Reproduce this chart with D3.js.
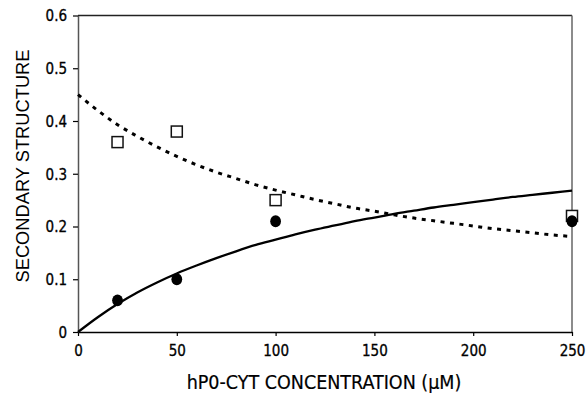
<!DOCTYPE html>
<html><head><meta charset="utf-8">
<script src="https://cdn.jsdelivr.net/npm/d3@7"></script>
<style>
html,body{margin:0;padding:0;background:#fff;}
svg{display:block;}
.tick text{font-family:"DejaVu Sans Condensed","DejaVu Sans",sans-serif;font-stretch:condensed;font-size:15px;fill:#000;stroke:#000;stroke-width:0.3px;}
</style></head><body>
<svg id="c" width="586" height="397"></svg>
<script>
// measured data points
const concentration = [20, 50, 100, 250];
const filledValues = [0.06, 0.10, 0.21, 0.21];
const openValues = [0.36, 0.38, 0.25, 0.22];
// fitted curves
const curveX = [0,10,20,30,40,50,60,70,80,90,100,110,120,130,140,150,160,170,180,190,200,210,220,230,240,250];
const solidCurve = [0,0.028,0.053,0.075,0.094,0.111,0.126,0.140,0.153,0.165,0.175,0.185,0.194,0.202,0.210,0.217,0.224,0.230,0.236,0.241,0.246,0.251,0.256,0.260,0.264,0.268];
const dashedCurve = [0.450,0.420,0.393,0.371,0.351,0.333,0.317,0.303,0.291,0.279,0.269,0.260,0.251,0.243,0.235,0.229,0.222,0.216,0.211,0.206,0.201,0.196,0.192,0.188,0.184,0.181];
const xTicks = [0,50,100,150,200,250];
const yTicks = [0,0.1,0.2,0.3,0.4,0.5,0.6];
const yTickLabels = ["0","0.1","0.2","0.3","0.4","0.5","0.6"];
const xTitle = "hP0-CYT CONCENTRATION (\u00B5M)";
const yTitle = "SECONDARY STRUCTURE";

const svg = d3.select("#c");
const L=78, R=572, T=15.5, B=332;
const x = d3.scaleLinear().domain([0,250]).range([L,R]);
const y = d3.scaleLinear().domain([0,0.6]).range([B,T]);

// frame top & right
svg.append("line").attr("x1",L).attr("x2",R).attr("y1",T).attr("y2",T).attr("stroke","#222").attr("stroke-width",1.3);
svg.append("line").attr("x1",R).attr("x2",R).attr("y1",T).attr("y2",B).attr("stroke","#666").attr("stroke-width",1.5);

const gx = svg.append("g").attr("transform",`translate(0,${B})`)
  .call(d3.axisBottom(x).tickValues(xTicks).tickSize(4).tickSizeOuter(0).tickPadding(9).tickFormat(d3.format("d")));
gx.select(".domain").attr("stroke","#000").attr("stroke-width",1.5);
gx.selectAll(".tick line").attr("stroke","#000").attr("stroke-width",1.2);

const gy = svg.append("g").attr("transform",`translate(${L},0)`)
  .call(d3.axisLeft(y).tickValues(yTicks).tickSize(5).tickSizeOuter(0).tickPadding(6).tickFormat((d,i)=>yTickLabels[i]));
gy.select(".domain").attr("stroke","#555").attr("stroke-width",1.5);
gy.selectAll(".tick line").attr("stroke","#000").attr("stroke-width",1.2);
gy.selectAll(".tick text").attr("dy","0.36em");

const line = d3.line().x((d,i)=>x(curveX[i])).y(d=>y(d)).curve(d3.curveMonotoneX);
svg.append("path").attr("d",line(dashedCurve)).attr("fill","none").attr("stroke","#000")
  .attr("stroke-width",3).attr("stroke-dasharray","4,5.5");
svg.append("path").attr("d",line(solidCurve)).attr("fill","none").attr("stroke","#000")
  .attr("stroke-width",2.3);

svg.selectAll("rect.sq").data(openValues).enter().append("rect").attr("class","sq")
  .attr("x",(d,i)=>x(concentration[i])-5.5).attr("y",d=>y(d)-5.5)
  .attr("width",11).attr("height",11).attr("fill","#fff").attr("stroke","#111").attr("stroke-width",1.5);
svg.selectAll("ellipse.dot").data(filledValues).enter().append("ellipse").attr("class","dot")
  .attr("cx",(d,i)=>x(concentration[i])).attr("cy",d=>y(d)).attr("rx",5.4).attr("ry",5.9).attr("fill","#000");

svg.append("text").attr("x",324).attr("y",389).attr("text-anchor","middle")
  .style("font-family",'"DejaVu Sans Condensed","DejaVu Sans",sans-serif').style("font-stretch","condensed")
  .style("font-size","19.5px").attr("fill","#000").attr("stroke","#000").attr("stroke-width",0.2).text(xTitle);
svg.append("text").attr("transform","translate(29,166) rotate(-90)").attr("text-anchor","middle")
  .style("font-family",'"Liberation Sans",Arial,sans-serif').style("font-size","18.3px").attr("fill","#000").text(yTitle);
</script></body></html>
